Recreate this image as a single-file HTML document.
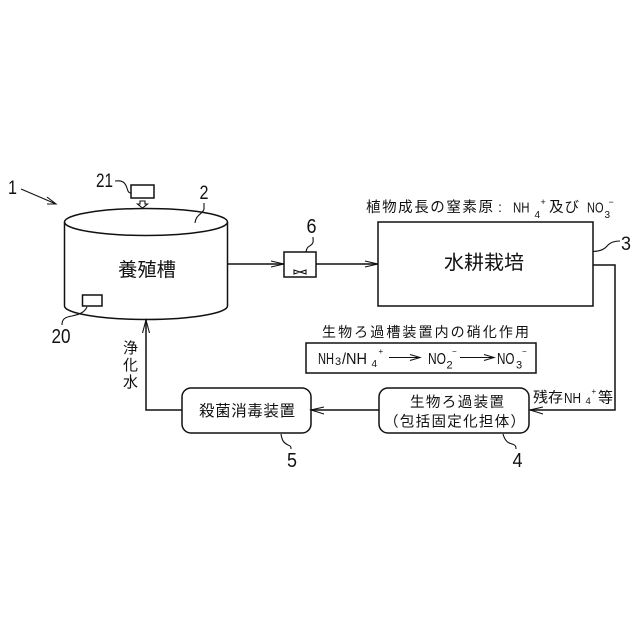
<!DOCTYPE html>
<html><head><meta charset="utf-8"><style>
html,body{margin:0;padding:0;background:#fff}
svg{display:block}
text{fill:#111;font-family:"Liberation Sans","Noto Sans CJK JP",sans-serif}
.l{stroke:#111;stroke-width:1.5;fill:none}
.t{stroke:#111;stroke-width:1.1;fill:none}
</style></head><body>
<svg width="640" height="640" viewBox="0 0 640 640" xmlns="http://www.w3.org/2000/svg">
<rect width="640" height="640" fill="#fff"/>
<!-- tank -->
<ellipse class="l" cx="146" cy="222" rx="81.5" ry="13.5"/>
<path class="l" d="M64.500 222V306C64.500 313 100 319.500 146 319.500S227.500 313 227.500 306V222"/>
<text x="118" y="276" font-size="19" textLength="58" lengthAdjust="spacingAndGlyphs">養殖槽</text>
<!-- ref 1 -->
<text x="8" y="194" font-size="19" textLength="9" lengthAdjust="spacingAndGlyphs">1</text>
<path class="t" d="M21 189L56 204M47 197L56 204L47 204"/>
<!-- 21 -->
<text x="96" y="187" font-size="19.500" textLength="17" lengthAdjust="spacingAndGlyphs">21</text>
<path class="t" d="M115 181C122 180 125 182 127 188C128 192 129 193 131 193"/>
<rect class="l" x="131" y="185" width="23" height="13"/>
<path class="t" d="M140 201H145V204H147.500L142.500 208L137.500 204H140Z"/>
<!-- 2 -->
<text x="199.500" y="199" font-size="19.500" textLength="9" lengthAdjust="spacingAndGlyphs">2</text>
<path class="t" d="M204 203V209C203 214 196 214 195 223"/>
<!-- 20 -->
<rect class="l" x="82.500" y="295" width="19.500" height="11"/>
<path class="t" d="M87 307C85 311 82 314 72 316C65 317 62 319 62 325"/>
<text x="51.500" y="343" font-size="20" textLength="19" lengthAdjust="spacingAndGlyphs">20</text>
<!-- pipe tank to valve -->
<path class="l" d="M228 264H284"/>
<path class="t" d="M271 261L284 264L271 267"/>
<rect class="l" x="284" y="252" width="32" height="25"/>
<path class="t" d="M294 270V274L300 272L306 274V270L300 272Z"/>
<path class="t" d="M306 252C307 246 309 247 311 245C314 243 313 240 313 237"/>
<text x="306.500" y="233" font-size="20" textLength="10" lengthAdjust="spacingAndGlyphs">6</text>
<path class="l" d="M316 264H378"/>
<path class="t" d="M365 261L378 264L365 267"/>
<!-- plant box -->
<rect class="l" x="378" y="222" width="215" height="84"/>
<text x="444" y="269" font-size="19.500" textLength="80" lengthAdjust="spacingAndGlyphs">水耕栽培</text>
<text x="366" y="212" font-size="14.500" textLength="127" lengthAdjust="spacing">植物成長の窒素原</text>
<text x="498" y="212" font-size="14">:</text>
<text x="513" y="212.500" font-size="15" textLength="16.500" lengthAdjust="spacingAndGlyphs">NH</text>
<text x="534.500" y="218" font-size="10">4</text>
<text x="540.500" y="205" font-size="9">+</text>
<text x="549" y="212" font-size="14.500" textLength="30" lengthAdjust="spacing">及び</text>
<text x="587" y="212.500" font-size="15" textLength="16.500" lengthAdjust="spacingAndGlyphs">NO</text>
<text x="604.500" y="218" font-size="10">3</text>
<text x="608.500" y="205" font-size="9">−</text>
<path class="t" d="M593 251.500C600 251 604 250 608 245C610 243 614 241 620 241"/>
<text x="621" y="250" font-size="19" textLength="10" lengthAdjust="spacingAndGlyphs">3</text>
<!-- right pipe -->
<path class="l" d="M593 265H615V410H530"/>
<path class="t" d="M543 407L530 410L543 414"/>
<text x="533" y="402.500" font-size="14.500" textLength="30" lengthAdjust="spacingAndGlyphs">残存</text>
<text x="564" y="403" font-size="15" textLength="17" lengthAdjust="spacingAndGlyphs">NH</text>
<text x="585.500" y="404" font-size="9.500">4</text>
<text x="591.500" y="394" font-size="8">+</text>
<text x="598" y="402.500" font-size="15" textLength="15" lengthAdjust="spacingAndGlyphs">等</text>
<!-- nitrification -->
<text x="322" y="337" font-size="14" textLength="207" lengthAdjust="spacing">生物ろ過槽装置内の硝化作用</text>
<rect class="l" x="306" y="343" width="230" height="30"/>
<text x="318" y="364" font-size="16" textLength="16" lengthAdjust="spacingAndGlyphs">NH</text>
<text x="335" y="365" font-size="11">3</text>
<text x="342" y="364" font-size="16" textLength="25" lengthAdjust="spacingAndGlyphs">/NH</text>
<text x="371.500" y="367" font-size="10">4</text>
<text x="378.500" y="354" font-size="8">+</text>
<path class="t" d="M389 357.500H420M410 354.500L420 357.500L410 360.500"/>
<text x="428" y="364" font-size="16" textLength="18" lengthAdjust="spacingAndGlyphs">NO</text>
<text x="446.500" y="368.500" font-size="11">2</text>
<text x="452" y="354" font-size="8">−</text>
<path class="t" d="M460 357.500H494M484 354.500L494 357.500L484 360.500"/>
<text x="497" y="364" font-size="16" textLength="17.500" lengthAdjust="spacingAndGlyphs">NO</text>
<text x="516" y="368.500" font-size="11">3</text>
<text x="522" y="354" font-size="8">−</text>
<!-- biofilter -->
<rect class="l" x="379" y="388" width="150" height="45" rx="9"/>
<text x="410" y="407" font-size="14.500" textLength="94" lengthAdjust="spacing">生物ろ過装置</text>
<text x="384" y="426.500" font-size="14.500" textLength="141" lengthAdjust="spacing">（包括固定化担体）</text>
<path class="t" d="M503 434C505 441 508 443 512 444C516 445 516 447 516 449"/>
<text x="512.500" y="467" font-size="20" textLength="10" lengthAdjust="spacingAndGlyphs">4</text>
<path class="l" d="M379 410H311"/>
<path class="t" d="M324 407L311 410L324 414"/>
<!-- sterilizer -->
<rect class="l" x="182" y="388" width="129" height="45" rx="9"/>
<text x="199" y="416" font-size="15.500" textLength="96" lengthAdjust="spacing">殺菌消毒装置</text>
<path class="t" d="M281 434C282 441 284 443 288 445C291 446 291 447 291 449"/>
<text x="287" y="467" font-size="20" textLength="10" lengthAdjust="spacingAndGlyphs">5</text>
<path class="l" d="M182 410H146V320"/>
<path class="t" d="M142.500 333L146 320L149.500 333"/>
<text x="123" y="353" font-size="15">浄</text>
<text x="123" y="370" font-size="15">化</text>
<text x="123" y="387" font-size="15">水</text>
</svg>
</body></html>
